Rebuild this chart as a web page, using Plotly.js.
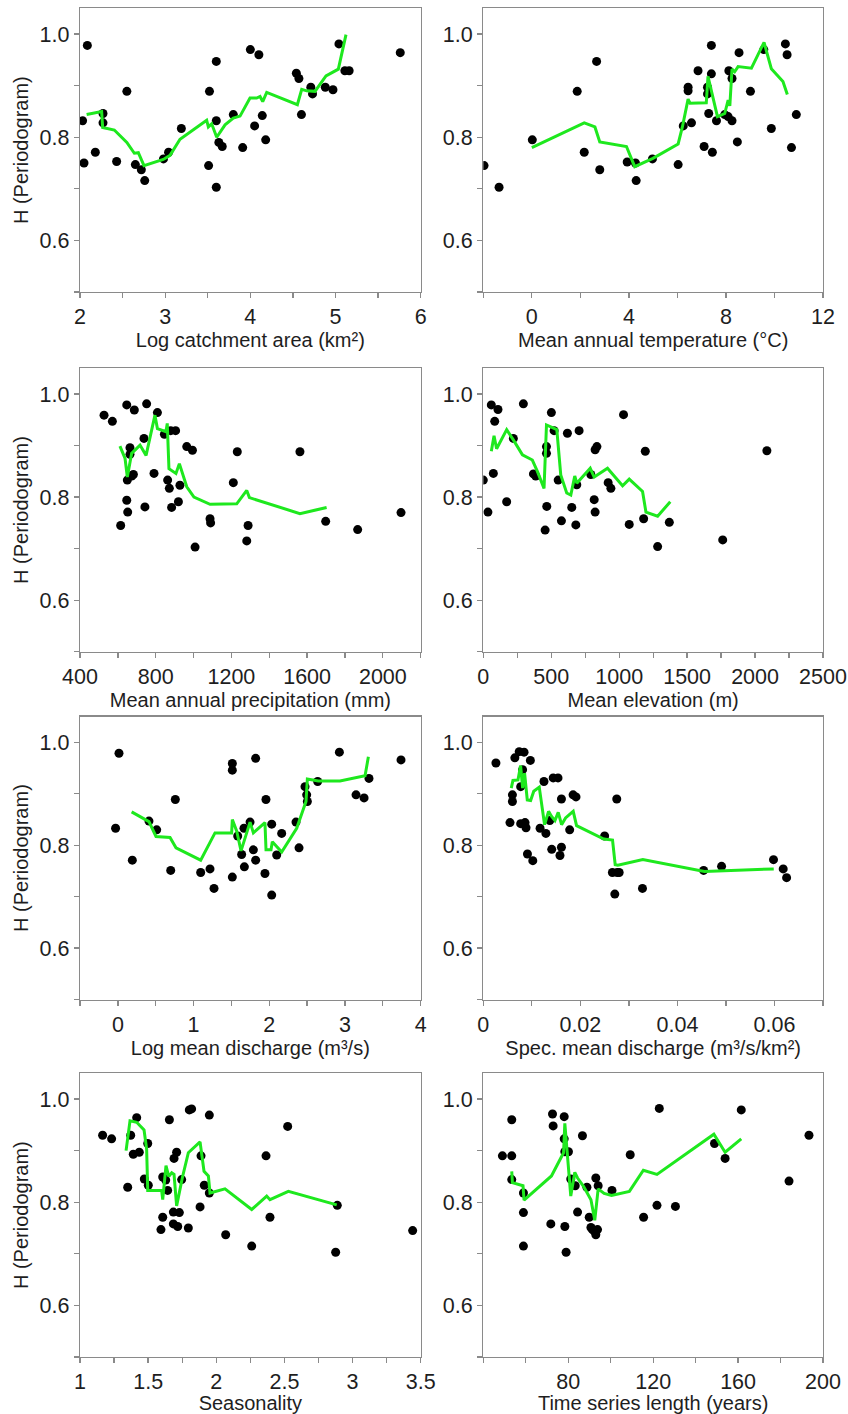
<!DOCTYPE html>
<html>
<head>
<meta charset="utf-8">
<script src="https://cdn.plot.ly/plotly-3.0.1.min.js"></script>
<style>html,body{margin:0;padding:0;background:#fff;}#chart{width:848px;height:1414px;}</style>
</head>
<body>
<div id="chart"></div>
<script>
// ---------- Panel 1: Log catchment area ----------
const area_x = [2.03,2.086,2.047,2.18,2.27,2.27,2.43,2.55,2.65,2.72,2.76,2.98,3.04,3.19,3.51,3.52,3.60,3.60,3.60,3.63,3.67,3.80,3.91,4.00,4.05,4.10,4.14,4.18,4.54,4.57,4.60,4.71,4.73,4.88,4.97,5.04,5.11,5.16,5.76];
const area_y = [0.832,0.978,0.750,0.771,0.846,0.828,0.753,0.889,0.747,0.737,0.716,0.758,0.771,0.817,0.745,0.889,0.947,0.832,0.703,0.790,0.782,0.844,0.780,0.970,0.822,0.960,0.842,0.795,0.924,0.914,0.844,0.897,0.884,0.897,0.892,0.981,0.929,0.929,0.964];
const area_lx = [2.078,2.254,2.266,2.403,2.55,2.638,2.685,2.751,2.978,3.057,3.174,3.487,3.507,3.546,3.605,3.703,3.80,3.879,3.996,4.074,4.114,4.145,4.192,4.552,4.603,4.661,4.759,4.888,5.033,5.123];
const area_ly = [0.844,0.850,0.819,0.814,0.790,0.769,0.770,0.745,0.757,0.765,0.796,0.833,0.820,0.826,0.800,0.824,0.837,0.841,0.876,0.876,0.879,0.869,0.887,0.863,0.893,0.890,0.889,0.919,0.932,0.999];

// ---------- Panel 2: Mean annual temperature ----------
const temp_x = [-1.97,-1.35,0.02,1.87,2.16,2.67,2.80,3.93,4.27,4.30,4.97,6.03,6.24,6.44,6.44,6.58,6.85,7.10,7.24,7.24,7.29,7.40,7.40,7.44,7.61,7.95,8.09,8.12,8.25,8.25,8.47,8.54,9.01,9.56,9.87,10.45,10.52,10.70,10.90];
const temp_y = [0.745,0.703,0.795,0.889,0.771,0.947,0.737,0.752,0.750,0.716,0.758,0.747,0.822,0.897,0.890,0.828,0.929,0.782,0.897,0.884,0.846,0.978,0.923,0.771,0.832,0.844,0.840,0.929,0.914,0.832,0.791,0.964,0.889,0.970,0.817,0.981,0.960,0.780,0.844];
const temp_lx = [0.0,2.16,2.60,2.80,3.90,4.24,4.99,6.03,6.20,6.44,6.52,7.19,7.26,7.65,7.95,8.09,8.16,8.25,8.36,8.50,9.05,9.57,9.87,10.35,10.53];
const temp_ly = [0.780,0.828,0.820,0.791,0.782,0.743,0.759,0.787,0.819,0.874,0.866,0.867,0.918,0.840,0.846,0.872,0.861,0.932,0.927,0.937,0.934,0.984,0.933,0.908,0.883];

// ---------- Panel 3: Mean annual precipitation ----------
const prec_x = [527,571,615,647,647,652,650,664,664,673,682,687,738,743,752,791,809,846,863,872,879,884,905,920,928,964,994,1008,1087,1090,1210,1231,1281,1288,1562,1698,1867,2096];
const prec_y = [0.959,0.947,0.745,0.979,0.794,0.771,0.833,0.896,0.883,0.841,0.844,0.969,0.914,0.781,0.981,0.846,0.964,0.922,0.833,0.817,0.929,0.780,0.929,0.791,0.823,0.898,0.891,0.703,0.758,0.750,0.828,0.888,0.715,0.745,0.888,0.753,0.737,0.770];
const prec_lx = [611,638,650,673,717,749,796,809,854,861,870,907,925,964,1002,1087,1228,1281,1295,1562,1703];
const prec_ly = [0.899,0.875,0.839,0.885,0.901,0.881,0.959,0.933,0.927,0.943,0.855,0.846,0.865,0.820,0.800,0.786,0.787,0.813,0.799,0.768,0.780];

// ---------- Panel 4: Mean elevation ----------
const elev_x = [0,34,59,74,84,108,172,221,295,369,386,455,465,465,467,501,521,551,575,619,651,681,688,705,791,816,823,836,823,919,939,1032,1074,1180,1192,1283,1369,1762,2087];
const elev_y = [0.833,0.771,0.979,0.846,0.947,0.970,0.791,0.914,0.981,0.845,0.841,0.736,0.898,0.885,0.782,0.964,0.929,0.833,0.754,0.924,0.780,0.746,0.824,0.929,0.844,0.795,0.892,0.898,0.771,0.828,0.817,0.960,0.747,0.758,0.889,0.704,0.751,0.717,0.890];
const elev_lx = [59,79,98,172,221,288,361,398,447,465,541,570,614,644,673,688,787,816,914,1025,1074,1172,1197,1283,1376];
const elev_ly = [0.889,0.919,0.894,0.931,0.911,0.882,0.872,0.850,0.817,0.940,0.931,0.843,0.808,0.804,0.841,0.827,0.856,0.839,0.856,0.822,0.835,0.811,0.771,0.763,0.791];

// ---------- Panel 5: Log mean discharge ----------
const qlog_x = [-0.03,0.015,0.191,0.411,0.513,0.698,0.759,1.094,1.217,1.270,1.512,1.512,1.512,1.583,1.635,1.666,1.671,1.746,1.790,1.820,1.820,1.943,1.956,2.032,2.032,2.098,2.164,2.393,2.353,2.472,2.494,2.503,2.639,2.926,3.146,3.252,3.317,3.740];
const qlog_y = [0.833,0.979,0.771,0.847,0.830,0.751,0.889,0.747,0.754,0.716,0.959,0.946,0.738,0.818,0.782,0.833,0.758,0.845,0.791,0.969,0.771,0.745,0.889,0.841,0.703,0.781,0.823,0.795,0.845,0.914,0.898,0.885,0.924,0.981,0.898,0.892,0.930,0.966];
const qlog_lx = [0.182,0.411,0.504,0.689,0.768,1.094,1.283,1.503,1.512,1.569,1.627,1.746,1.790,1.943,1.957,2.023,2.040,2.164,2.362,2.485,2.503,2.648,2.934,3.265,3.309];
const qlog_ly = [0.865,0.846,0.817,0.815,0.795,0.771,0.824,0.824,0.850,0.828,0.789,0.845,0.824,0.844,0.791,0.791,0.807,0.787,0.833,0.885,0.929,0.925,0.925,0.935,0.972];

// ---------- Panel 6: Specific mean discharge ----------
const qspec_x = [0.0026,0.0055,0.0060,0.0060,0.0065,0.0074,0.0077,0.0077,0.0081,0.0084,0.0086,0.0088,0.0091,0.0097,0.0102,0.0117,0.0125,0.0129,0.0137,0.0141,0.0144,0.0154,0.0158,0.0161,0.0161,0.0178,0.0185,0.0191,0.0250,0.0266,0.0271,0.0275,0.0276,0.0280,0.0328,0.0454,0.0491,0.0598,0.0618,0.0625];
const qspec_y = [0.960,0.844,0.898,0.885,0.970,0.982,0.914,0.842,0.947,0.981,0.844,0.834,0.783,0.965,0.770,0.833,0.924,0.823,0.848,0.792,0.931,0.931,0.780,0.796,0.890,0.830,0.898,0.894,0.818,0.747,0.705,0.890,0.747,0.747,0.716,0.751,0.759,0.772,0.754,0.737];
const qspec_lx = [0.00576,0.00611,0.00714,0.00769,0.0081,0.00851,0.00906,0.00975,0.0104,0.01153,0.01263,0.01345,0.01407,0.01476,0.01544,0.01613,0.01695,0.01853,0.01922,0.02484,0.02663,0.02718,0.02773,0.03287,0.04557,0.05985];
const qspec_ly = [0.911,0.926,0.927,0.955,0.911,0.940,0.888,0.887,0.905,0.913,0.840,0.866,0.856,0.848,0.864,0.840,0.853,0.866,0.838,0.812,0.810,0.762,0.761,0.772,0.749,0.754];

// ---------- Panel 7: Seasonality ----------
const seas_x = [1.166,1.232,1.350,1.372,1.391,1.416,1.435,1.472,1.497,1.501,1.594,1.607,1.607,1.629,1.643,1.656,1.685,1.685,1.690,1.709,1.717,1.729,1.746,1.795,1.802,1.819,1.881,1.888,1.912,1.949,1.949,2.069,2.260,2.365,2.394,2.524,2.876,2.888,3.441];
const seas_y = [0.930,0.923,0.829,0.930,0.893,0.964,0.897,0.845,0.914,0.833,0.747,0.771,0.849,0.843,0.823,0.960,0.781,0.758,0.885,0.897,0.753,0.780,0.844,0.750,0.979,0.981,0.791,0.890,0.833,0.969,0.818,0.737,0.715,0.890,0.771,0.947,0.703,0.794,0.745];
const seas_lx = [1.338,1.367,1.416,1.470,1.489,1.497,1.599,1.607,1.631,1.651,1.673,1.690,1.709,1.753,1.795,1.881,1.910,1.942,1.954,2.064,2.260,2.370,2.394,2.529,2.884];
const seas_ly = [0.900,0.958,0.955,0.940,0.903,0.823,0.823,0.805,0.871,0.850,0.857,0.854,0.793,0.850,0.896,0.917,0.860,0.851,0.818,0.826,0.786,0.812,0.805,0.821,0.795];

// ---------- Panel 8: Time series length ----------
const len_x = [49.0,53.4,53.4,53.4,58.9,58.9,58.9,71.8,72.6,72.9,78.1,78.1,78.4,79.0,78.4,80.1,81.2,83.3,84.4,86.7,88.8,89.9,90.7,91.4,92.5,93.0,93.8,93.0,94.1,100.6,109.2,115.5,121.8,122.9,130.5,148.9,153.9,161.5,184.0,193.4];
const len_y = [0.890,0.890,0.960,0.844,0.818,0.780,0.715,0.758,0.971,0.948,0.966,0.923,0.753,0.703,0.898,0.898,0.845,0.832,0.781,0.929,0.829,0.771,0.751,0.747,0.743,0.737,0.747,0.847,0.832,0.823,0.892,0.771,0.794,0.982,0.792,0.914,0.885,0.979,0.841,0.930];
const len_lx = [53.4,53.7,58.7,59.2,72.1,77.8,78.4,79.3,81.2,83.1,84.4,87.2,90.7,92.5,94.1,96.9,100.4,108.8,115.4,121.8,148.6,153.9,161.5];
const len_ly = [0.860,0.838,0.832,0.804,0.851,0.896,0.953,0.903,0.812,0.858,0.847,0.831,0.805,0.765,0.826,0.817,0.813,0.821,0.862,0.854,0.932,0.897,0.923];

// ---------- Axis titles, ranges and ticks ----------
const xTitles = ['Log catchment area (km²)','Mean annual temperature (°C)','Mean annual precipitation (mm)','Mean elevation (m)','Log mean discharge (m³/s)','Spec. mean discharge (m³/s/km²)','Seasonality','Time series length (years)'];
const yTitle = 'H (Periodogram)';
const xRanges = [[2,6],[-2,12],[400,2200],[0,2500],[-0.5,4],[0,0.07],[1,3.5],[40,200]];
const xTickVals = [
  [2,2.5,3,3.5,4,4.5,5,5.5,6],
  [-2,0,2,4,6,8,10,12],
  [400,600,800,1000,1200,1400,1600,1800,2000,2200],
  [0,250,500,750,1000,1250,1500,1750,2000,2250,2500],
  [-0.5,0,0.5,1,1.5,2,2.5,3,3.5,4],
  [0,0.01,0.02,0.03,0.04,0.05,0.06,0.07],
  [1,1.25,1.5,1.75,2,2.25,2.5,2.75,3,3.25,3.5],
  [40,60,80,100,120,140,160,180,200]
];
const xTickText = [
  ['2','','3','','4','','5','','6'],
  ['','0','','4','','8','','12'],
  ['400','','800','','1200','','1600','','2000',''],
  ['0','','500','','1000','','1500','','2000','','2500'],
  ['','0','','1','','2','','3','','4'],
  ['0','','0.02','','0.04','','0.06',''],
  ['1','','1.5','','2','','2.5','','3','','3.5'],
  ['','','80','','120','','160','','200']
];
const yRange = [0.5,1.05];
const yTickVals = [0.5,0.6,0.7,0.8,0.9,1.0];
const yTickText = ['','0.6','','0.8','','1.0'];

const pointsX = [area_x,temp_x,prec_x,elev_x,qlog_x,qspec_x,seas_x,len_x];
const pointsY = [area_y,temp_y,prec_y,elev_y,qlog_y,qspec_y,seas_y,len_y];
const lineX = [area_lx,temp_lx,prec_lx,elev_lx,qlog_lx,qspec_lx,seas_lx,len_lx];
const lineY = [area_ly,temp_ly,prec_ly,elev_ly,qlog_ly,qspec_ly,seas_ly,len_ly];

// ---------- Layout geometry (pixels) ----------
const W = 848, H = 1414;
const M = {l:80, r:25, t:8, b:57};
const PW = W - M.l - M.r, PH = H - M.t - M.b;
const colPx = [[80,420.7],[483.3,823]];
const rowPx = [[8.3,292],[368.3,651.7],[716.7,999.5],[1073.3,1357]];
function xdom(c){return [Math.max(0,(colPx[c][0]-M.l)/PW), Math.min(1,(colPx[c][1]-M.l)/PW)];}
function ydom(r){return [Math.max(0,1-(rowPx[r][1]-M.t)/PH), Math.min(1,1-(rowPx[r][0]-M.t)/PH)];}

const FONT = 'Liberation Sans, Arial, Helvetica, sans-serif';
const TXT = '#1e1e1e';
const FRAME = '#8a8a8a';
const GREEN = '#1ee81e';

const traces = [];
const layout = {
  width: W, height: H,
  margin: M,
  paper_bgcolor: '#ffffff', plot_bgcolor: '#ffffff',
  showlegend: false,
  font: {family: FONT, size: 20, color: TXT}
};

for (let i = 0; i < 8; i++) {
  const n = i + 1;
  const xa = n === 1 ? 'x' : 'x' + n;
  const ya = n === 1 ? 'y' : 'y' + n;
  traces.push({
    type: 'scatter', mode: 'markers', x: pointsX[i], y: pointsY[i],
    xaxis: xa, yaxis: ya,
    marker: {color: '#000000', size: 9, line: {width: 0}},
    hoverinfo: 'skip'
  });
  traces.push({
    type: 'scatter', mode: 'lines', x: lineX[i], y: lineY[i],
    xaxis: xa, yaxis: ya,
    line: {color: GREEN, width: 3},
    hoverinfo: 'skip'
  });
  const col = i % 2, row = Math.floor(i / 2);
  const common = {
    showline: true, mirror: true, linecolor: FRAME, linewidth: 1.3,
    ticks: 'outside', ticklen: 5, tickwidth: 1.3, tickcolor: FRAME,
    showgrid: false, zeroline: false,
    tickfont: {family: FONT, size: 21.5, color: TXT},
    tickmode: 'array', fixedrange: true
  };
  layout['xaxis' + (n === 1 ? '' : n)] = Object.assign({}, common, {
    domain: xdom(col), anchor: ya, range: xRanges[i],
    tickvals: xTickVals[i], ticktext: xTickText[i],
    title: {text: xTitles[i], font: {family: FONT, size: 20, color: TXT}, standoff: 4}
  });
  const yax = Object.assign({}, common, {
    domain: ydom(row), anchor: xa, range: yRange,
    tickvals: yTickVals, ticktext: yTickText
  });
  if (col === 0) {
    yax.title = {text: yTitle, font: {family: FONT, size: 20, color: TXT}, standoff: 5};
  }
  layout['yaxis' + (n === 1 ? '' : n)] = yax;
}

Plotly.newPlot('chart', traces, layout, {staticPlot: true, displayModeBar: false});
</script>
</body>
</html>
